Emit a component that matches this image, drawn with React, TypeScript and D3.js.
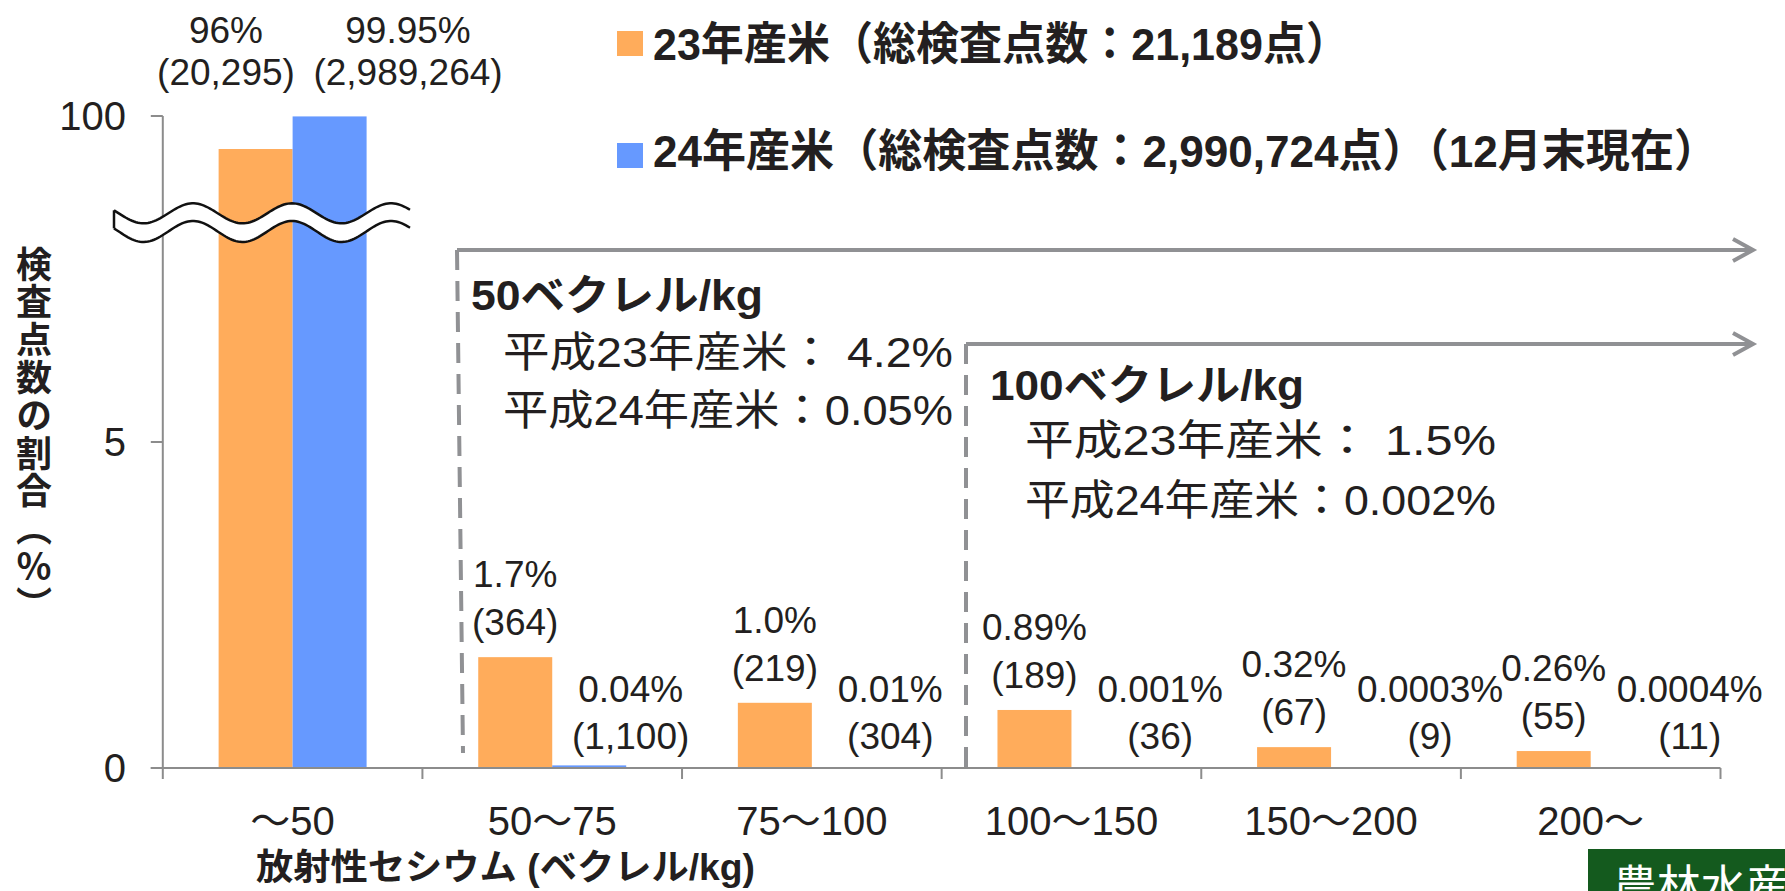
import React from 'react';
import * as d3 from 'd3';

// ---- data ----
const categories = ['～50', '50～75', '75～100', '100～150', '150～200', '200～'];
const seriesNames = ['23年産米', '24年産米'];
const values23 = [96, 1.7, 1.0, 0.89, 0.32, 0.26];
const values24 = [99.95, 0.04, 0.01, 0.001, 0.0003, 0.0004];
const pctLabels23 = ['96%', '1.7%', '1.0%', '0.89%', '0.32%', '0.26%'];
const countLabels23 = ['(20,295)', '(364)', '(219)', '(189)', '(67)', '(55)'];
const pctLabels24 = ['99.95%', '0.04%', '0.01%', '0.001%', '0.0003%', '0.0004%'];
const countLabels24 = ['(2,989,264)', '(1,100)', '(304)', '(36)', '(9)', '(11)'];
const yTicks = [0, 5, 100];
const legendLabels = ['23年産米（総検査点数：21,189点）', '24年産米（総検査点数：2,990,724点）（12月末現在）'];
const box50Lines = ['50ベクレル/kg', '平成23年産米：  4.2%', '平成24年産米：0.05%'];
const box100Lines = ['100ベクレル/kg', '平成23年産米：   1.5%', '平成24年産米：0.002%'];
const yTitle = '検査点数の割合（％）';
const xTitle = '放射性セシウム (ベクレル/kg)';
const sourceLabel = '農林水産省';

// ---- style ----
const W = 1785;
const H = 891;
const ORANGE = '#FFAC5B';
const BLUE = '#6699FF';
const AXIS = '#8C8C8C';
const GUIDE = '#909194';
const TEXT = '#231F20';
const SANS = "'Liberation Sans', Arial, 'Noto Sans CJK JP', sans-serif";
const CJK = "'Noto Sans CJK JP', sans-serif";

const charW: Record<string, number> = { '.': 0.278, ',': 0.278, '%': 0.889, '(': 0.333, ')': 0.333 };
const approxWidth = (s: string, fs: number) =>
  s.split('').reduce((a, ch) => a + (charW[ch] ?? 0.556), 0) * fs;

export default function App() {
  const x0 = d3.scaleBand<string>().domain(categories).range([162.8, 1720.5]).paddingInner(0).paddingOuter(0);
  const bw = x0.bandwidth();
  const x1 = d3.scaleBand<string>().domain(seriesNames).range([bw * 0.215, bw * 0.785]);
  const y = d3.scaleLinear().domain([0, 5, 60.5, 100]).range([768, 442, 442, 116]);
  const y0 = y(0);
  const axisLeft = x0.range()[0];
  const axisRight = x0.range()[1];
  const tickXs = [...categories.map((c) => x0(c) as number), axisRight];

  const series = [values23, values24];
  const colors = [ORANGE, BLUE];
  const lfs = 37; // data label font size

  // break symbol (wavy band)
  const waveX = d3.range(114, 412, 2);
  const P = 99;
  const phase = (x: number) => Math.cos((2 * Math.PI * (x - 292)) / P);
  const upper: [number, number][] = waveX.map((x) => [x, 213.3 - 10 * phase(x)]);
  const lower: [number, number][] = waveX.map((x) => [x, 231.5 - 10.5 * phase(x)]);
  const line = d3.line();
  const fillPath = line([...upper, ...lower.slice().reverse()]) + 'Z';

  return (
    <svg
      width={W}
      height={H}
      viewBox={`0 0 ${W} ${H}`}
      style={{ position: 'absolute', left: 0, top: 0, display: 'block', background: '#fff' }}
      fontFamily={SANS}
    >
      <rect x={0} y={0} width={W} height={H} fill="#fff" />

      {/* bars */}
      {categories.map((c, i) => (
        <g key={c} transform={`translate(${x0(c)},0)`}>
          {seriesNames.map((s, k) => {
            const v = series[k][i];
            return (
              <rect
                key={s}
                x={x1(s)}
                y={y(v)}
                width={x1.bandwidth()}
                height={Math.max(0, y0 - y(v))}
                fill={colors[k]}
              />
            );
          })}
        </g>
      ))}

      {/* axes */}
      <g stroke={AXIS} strokeWidth={2} fill="none">
        <line x1={axisLeft} y1={y(100)} x2={axisLeft} y2={y0} />
        {yTicks.map((t) => (
          <line key={t} x1={axisLeft - 12} y1={y(t)} x2={axisLeft} y2={y(t)} />
        ))}
        <line x1={axisLeft - 12} y1={y0} x2={axisRight} y2={y0} />
        {tickXs.map((tx, i) => (
          <line key={i} x1={tx} y1={y0} x2={tx} y2={y0 + 11} />
        ))}
      </g>
      {yTicks.map((t) => (
        <text key={t} x={126} y={y(t) + 14} fontSize={40} textAnchor="end" fill={TEXT}>
          {t}
        </text>
      ))}
      {categories.map((c) => (
        <text
          key={c}
          x={(x0(c) as number) + bw / 2}
          y={835}
          fontSize={40}
          textAnchor="middle"
          fill={TEXT}
        >
          {c}
        </text>
      ))}

      {/* break symbol */}
      <path d={fillPath} fill="#fff" stroke="none" />
      <path d={line(upper) as string} fill="none" stroke="#111" strokeWidth={2.5} />
      <path d={line(lower) as string} fill="none" stroke="#111" strokeWidth={2.5} />
      <line x1={upper[0][0]} y1={upper[0][1]} x2={lower[0][0]} y2={lower[0][1]} stroke="#111" strokeWidth={2.5} />

      {/* data labels */}
      {categories.map((c, i) => {
        const xo = (x0(c) as number) + (x1(seriesNames[0]) as number) + x1.bandwidth() / 2;
        const xbStart = (x0(c) as number) + (x1(seriesNames[1]) as number);
        const xb = xbStart + x1.bandwidth() / 2;
        if (i === 0) {
          return (
            <g key={c} fontSize={lfs} fill={TEXT} textAnchor="middle">
              <text x={xo - 29.6} y={43}>{pctLabels23[i]}</text>
              <text x={xo - 29.6} y={85}>{countLabels23[i]}</text>
              <text x={xb + 78.4} y={43}>{pctLabels24[i]}</text>
              <text x={xb + 78.4} y={85}>{countLabels24[i]}</text>
            </g>
          );
        }
        const top = y(values23[i]);
        const bx = xbStart + 26;
        const bcx = bx + approxWidth(pctLabels24[i], lfs) / 2;
        return (
          <g key={c} fontSize={lfs} fill={TEXT}>
            <text x={xo} y={top - 70} textAnchor="middle">{pctLabels23[i]}</text>
            <text x={xo} y={top - 22} textAnchor="middle">{countLabels23[i]}</text>
            <text x={bx} y={702} textAnchor="start">{pctLabels24[i]}</text>
            <text x={bcx} y={749} textAnchor="middle">{countLabels24[i]}</text>
          </g>
        );
      })}

      {/* threshold guides */}
      <g stroke={GUIDE} strokeWidth={4} fill="none">
        <line x1={457} y1={250} x2={1752} y2={250} />
        <polyline points="1733,239 1753,250 1733,261" strokeLinejoin="miter" />
        <line x1={457} y1={250} x2={463} y2={753} strokeDasharray="20 11" />
        <line x1={966} y1={344} x2={1752} y2={344} />
        <polyline points="1733,333 1753,344 1733,355" strokeLinejoin="miter" />
        <line x1={966} y1={344} x2={966} y2={767} strokeDasharray="20 11" />
      </g>
      <g fill={TEXT}>
        <text x={471} y={310} fontSize={42} fontWeight="bold" textLength={292} lengthAdjust="spacingAndGlyphs">
          {box50Lines[0]}
        </text>
        <text x={503} y={367} fontSize={42} textLength={450} lengthAdjust="spacingAndGlyphs">
          {box50Lines[1]}
        </text>
        <text x={503} y={425} fontSize={42} textLength={450} lengthAdjust="spacingAndGlyphs">
          {box50Lines[2]}
        </text>
        <text x={990} y={400} fontSize={42} fontWeight="bold" textLength={314} lengthAdjust="spacingAndGlyphs">
          {box100Lines[0]}
        </text>
        <text x={1025} y={455} fontSize={42} textLength={471} lengthAdjust="spacingAndGlyphs">
          {box100Lines[1]}
        </text>
        <text x={1025} y={515} fontSize={42} textLength={471} lengthAdjust="spacingAndGlyphs">
          {box100Lines[2]}
        </text>
      </g>

      {/* legend */}
      {legendLabels.map((l, k) => (
        <g key={l}>
          <rect x={617} y={31 + k * 112} width={26} height={25} fill={colors[k]} />
          <text
            x={653}
            y={60 + k * 107}
            fontSize={45}
            fontWeight="bold"
            fill={TEXT}
            textLength={k === 0 ? 696 : 1065}
            lengthAdjust="spacingAndGlyphs"
          >
            {l}
          </text>
        </g>
      ))}

      {/* axis titles */}
      <text
        x={34}
        y={246}
        fontSize={36}
        fontWeight="bold"
        fill={TEXT}
        fontFamily={CJK}
        letterSpacing={1.8}
        style={{ writingMode: 'vertical-rl' as any }}
      >
        {yTitle}
      </text>
      <text x={256} y={880} fontSize={36} fontWeight="bold" fill={TEXT} textLength={499} lengthAdjust="spacingAndGlyphs">
        {xTitle}
      </text>

      {/* source badge */}
      <rect x={1588} y={849} width={260} height={60} fill="#145A1E" />
      <text x={1613} y={902} fontSize={44} fill="#fff">{sourceLabel}</text>
    </svg>
  );
}
